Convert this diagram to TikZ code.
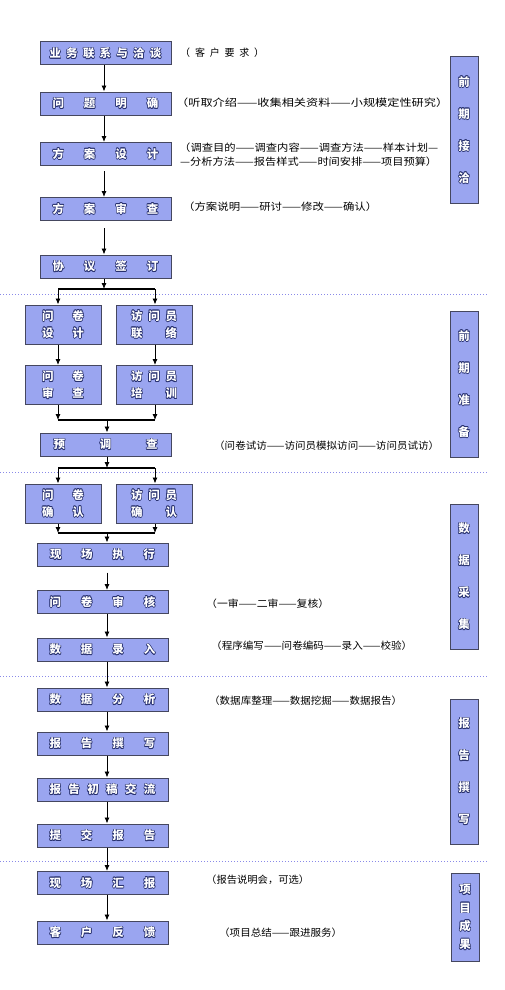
\documentclass[tikz,border=0pt]{standalone}
\usepackage{fontspec}
\usepackage{graphicx}
\usetikzlibrary{arrows.meta}
\newfontfamily\cjk{Noto Sans CJK SC}
\definecolor{boxfill}{HTML}{9AA5F0}
\definecolor{boxline}{HTML}{45475F}
\definecolor{olc}{HTML}{27306E}
\definecolor{dotc}{HTML}{8A8AE8}
\newcommand\olt[1]{{\setbox0\hbox{#1}%
\def\olo##1##2{\rlap{\hskip##1\raise##2\hbox{\color{olc}\copy0}}}%
\olo{0.7pt}{0pt}\olo{-0.7pt}{0pt}\olo{0pt}{0.7pt}\olo{0pt}{-0.7pt}%
\olo{0.5pt}{0.5pt}\olo{-0.5pt}{0.5pt}\olo{0.5pt}{-0.5pt}\olo{-0.5pt}{-0.5pt}%
\textcolor{white}{\box0}}}
\newcommand\spr[2]{\makebox[#1][s]{#2}}
\newcommand\ann[2]{\resizebox{#1}{\height}{#2}}
\tikzset{
  box/.style={draw=boxline, fill=boxfill, line width=1pt, inner sep=0pt,
    font=\cjk\bfseries\fontsize{11.5}{12}\selectfont},
  mainbox/.style={box, minimum width=131pt, minimum height=23pt},
  smallbox/.style={box, minimum width=76pt, minimum height=39pt, align=center,
    font=\cjk\bfseries\fontsize{11.5}{17}\selectfont},
  sidebox/.style={box, minimum width=28pt, align=center,
    font=\cjk\bfseries\fontsize{11.5}{32}\selectfont},
  annot/.style={anchor=west, inner sep=0pt, font=\cjk\fontsize{10}{12}\selectfont},
  arr/.style={draw=black, line width=0.9pt, -{Latex[length=6pt,width=5pt]}},
  bar/.style={draw=black, line width=1.6pt},
  sep/.style={draw=dotc, line width=1pt, dash pattern=on 1pt off 2pt}
}
\begin{document}
\begin{tikzpicture}[x=1pt,y=-1pt]
\useasboundingbox (0,0) rectangle (504,990);
% separators
\coordinate (L) at (0,0);
\coordinate (R) at (487,0);
\draw[sep] (L |- 0,294) -- (R |- 0,294);
\draw[sep] (L |- 0,472) -- (R |- 0,472);
\draw[sep] (L |- 0,676) -- (R |- 0,676);
\draw[sep] (L |- 0,861) -- (R |- 0,861);
% main boxes
\node[mainbox] (b1) at (105.5,53.5) {\olt{\spr{112pt}{业\hfill 务\hfill 联\hfill 系\hfill 与\hfill 洽\hfill 谈}}};
\node[mainbox] (b2) at (105.5,103.5) {\olt{\spr{106pt}{问\hfill 题\hfill 明\hfill 确}}};
\node[mainbox] (b3) at (105.5,154) {\olt{\spr{106pt}{方\hfill 案\hfill 设\hfill 计}}};
\node[mainbox] (b4) at (105.5,209) {\olt{\spr{106pt}{方\hfill 案\hfill 审\hfill 查}}};
\node[mainbox] (b5) at (105.5,266.5) {\olt{\spr{106pt}{协\hfill 议\hfill 签\hfill 订}}};
\node[smallbox] (qd) at (63,324.5) {\olt{\spr{42pt}{问\hfill 卷}}\\\olt{\spr{42pt}{设\hfill 计}}};
\node[smallbox] (fl) at (154,324.5) {\olt{\spr{46pt}{访\hfill 问\hfill 员}}\\\olt{\spr{46pt}{联\hfill 络}}};
\node[smallbox] (qs) at (63,385) {\olt{\spr{42pt}{问\hfill 卷}}\\\olt{\spr{42pt}{审\hfill 查}}};
\node[smallbox] (px) at (154,385) {\olt{\spr{46pt}{访\hfill 问\hfill 员}}\\\olt{\spr{46pt}{培\hfill 训}}};
\node[mainbox] (yd) at (105.5,444.5) {\olt{\spr{104pt}{预\hfill 调\hfill 查}}};
\node[smallbox] (qr) at (63,503.5) {\olt{\spr{42pt}{问\hfill 卷}}\\\olt{\spr{42pt}{确\hfill 认}}};
\node[smallbox] (fr) at (154,503.5) {\olt{\spr{46pt}{访\hfill 问\hfill 员}}\\\olt{\spr{46pt}{确\hfill 认}}};
\node[mainbox] (xz) at (102.5,554.5) {\olt{\spr{105pt}{现\hfill 场\hfill 执\hfill 行}}};
\node[mainbox] (wj) at (102.5,602) {\olt{\spr{106pt}{问\hfill 卷\hfill 审\hfill 核}}};
\node[mainbox] (sj) at (102.5,649.5) {\olt{\spr{106pt}{数\hfill 据\hfill 录\hfill 入}}};
\node[mainbox] (fx) at (102.5,699.5) {\olt{\spr{106pt}{数\hfill 据\hfill 分\hfill 析}}};
\node[mainbox] (zx) at (102.5,743.5) {\olt{\spr{106pt}{报\hfill 告\hfill 撰\hfill 写}}};
\node[mainbox] (cg) at (102.5,789.5) {\olt{\spr{106pt}{报\hfill 告\hfill 初\hfill 稿\hfill 交\hfill 流}}};
\node[mainbox] (tj) at (102.5,835.5) {\olt{\spr{106pt}{提\hfill 交\hfill 报\hfill 告}}};
\node[mainbox] (hb) at (102.5,883) {\olt{\spr{106pt}{现\hfill 场\hfill 汇\hfill 报}}};
\node[mainbox] (fk) at (102.5,932.5) {\olt{\spr{106pt}{客\hfill 户\hfill 反\hfill 馈}}};
% side boxes
\node[sidebox, minimum height=146pt] (s1) at (464,130) {\olt{前}\\\olt{期}\\\olt{接}\\\olt{洽}};
\node[sidebox, minimum height=146pt] (s2) at (464,384) {\olt{前}\\\olt{期}\\\olt{准}\\\olt{备}};
\node[sidebox, minimum height=145pt] (s3) at (464,576.5) {\olt{数}\\\olt{据}\\\olt{采}\\\olt{集}};
\node[sidebox, minimum height=145pt] (s4) at (464,771.5) {\olt{报}\\\olt{告}\\\olt{撰}\\\olt{写}};
\node[sidebox, minimum height=88pt, font=\cjk\bfseries\fontsize{11.5}{18.3}\selectfont] (s5) at (465,917) {\olt{项}\\\olt{目}\\\olt{成}\\\olt{果}};
% annotations
\node[annot] (a1) at (180,53) {\spr{84pt}{（\hfill 客\hfill 户\hfill 要\hfill 求\hfill ）}};
\node[annot] (a2) at (176,103) {\ann{272pt}{（听取介绍——收集相关资料——小规模定性研究）}};
\node[annot] (a3) at (179,148) {\ann{259pt}{（调查目的——调查内容——调查方法——样本计划—}};
\node[annot] (a3b) at (180,162) {\ann{257pt}{—分析方法——报告样式——时间安排——项目预算）}};
\node[annot] (a4) at (183,207) {\ann{194pt}{（方案说明——研讨——修改——确认）}};
\node[annot] (a5) at (214,446) {\ann{225pt}{（问卷试访——访问员模拟访问——访问员试访）}};
\node[annot] (a6) at (206,604) {\ann{123pt}{（一审——二审——复核）}};
\node[annot] (a7) at (211,646) {\ann{201pt}{（程序编写——问卷编码——录入——校验）}};
\node[annot] (a8) at (209,701) {\ann{193pt}{（数据库整理——数据挖掘——数据报告）}};
\node[annot] (a9) at (206,880) {\ann{103pt}{（报告说明会，可选）}};
\node[annot] (a10) at (219,933) {\ann{123pt}{（项目总结——跟进服务）}};
% connectors
\coordinate (cU) at (104,0);
\coordinate (cM) at (107,0);
\coordinate (cL) at (58,0);
\coordinate (cR) at (155,0);
\draw[arr] (cU |- b1.south) -- (cU |- b2.north);
\draw[arr] (cU |- b2.south) -- (cU |- b3.north);
\draw[arr, shorten <=5pt] (cU |- b3.south) -- (cU |- b4.north);
\draw[arr, shorten <=7pt] (cU |- b4.south) -- (cU |- b5.north);
% split 1
\coordinate (j1) at (104,289);
\draw[arr] (cU |- b5.south) -- (j1);
\draw[bar] (cL |- j1) -- (cR |- j1);
\draw[arr] (cL |- j1) -- (cL |- qd.north);
\draw[arr] (cR |- j1) -- (cR |- fl.north);
\draw[arr] (cL |- qd.south) -- (cL |- qs.north);
\draw[arr] (cR |- fl.south) -- (cR |- px.north);
% merge 1
\coordinate (j2) at (107,420);
\draw[arr] (cL |- qs.south) -- (cL |- j2);
\draw[arr] (cR |- px.south) -- (cR |- j2);
\draw[bar] (cL |- j2) -- (cR |- j2);
\draw[arr] (j2) -- (j2 |- yd.north);
% split 2
\coordinate (j3) at (107,468);
\draw[arr] (j3 |- yd.south) -- (j3);
\draw[bar] (cL |- j3) -- (cR |- j3);
\draw[arr] (cL |- j3) -- (cL |- qr.north);
\draw[arr] (cR |- j3) -- (cR |- fr.north);
% merge 2
\coordinate (j4) at (107,533);
\draw[arr] (cL |- qr.south) -- (cL |- j4);
\draw[arr] (cR |- fr.south) -- (cR |- j4);
\draw[bar] (cL |- j4) -- (cR |- j4);
\draw[arr] (j4) -- (j4 |- xz.north);
% lower column
\draw[arr, shorten <=6pt] (cM |- xz.south) -- (cM |- wj.north);
\draw[arr] (cM |- wj.south) -- (cM |- sj.north);
\draw[arr] (cM |- sj.south) -- (cM |- fx.north);
\draw[arr] (cM |- fx.south) -- (cM |- zx.north);
\draw[arr] (cM |- zx.south) -- (cM |- cg.north);
\draw[arr] (cM |- cg.south) -- (cM |- tj.north);
\draw[arr] (cM |- tj.south) -- (cM |- hb.north);
\draw[arr] (cM |- hb.south) -- (cM |- fk.north);
\end{tikzpicture}
\end{document}
